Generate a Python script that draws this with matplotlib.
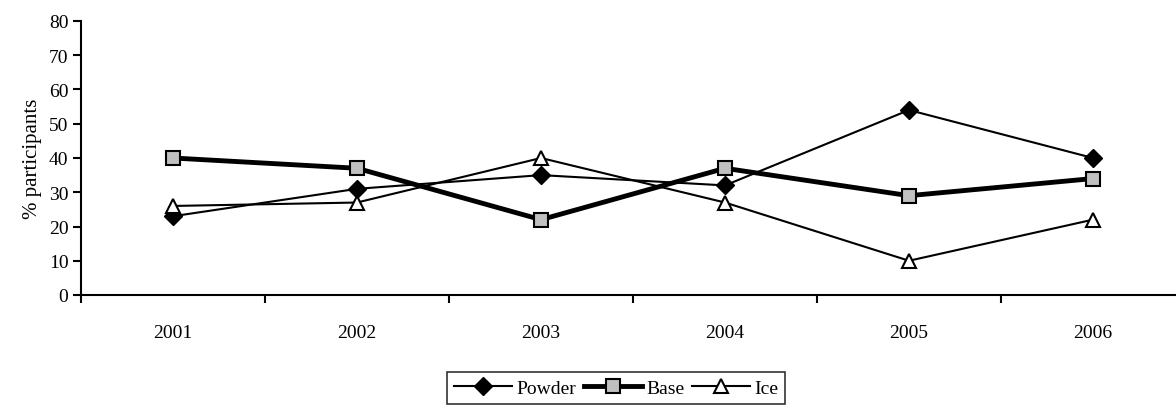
import matplotlib
matplotlib.use("Agg")
import matplotlib.pyplot as plt
import numpy as np

years = ["2001", "2002", "2003", "2004", "2005", "2006"]
powder = [23, 31, 35, 32, 54, 40]
base = [40, 37, 22, 37, 29, 34]
ice = [26, 27, 40, 27, 10, 22]

plt.rcParams["font.family"] = ["Liberation Serif", "DejaVu Serif"]

fig = plt.figure(figsize=(11.76, 4.14), dpi=100)
ax = fig.add_axes([81 / 1176, 1 - 296 / 414, 1104 / 1176, 274 / 414])

x = np.arange(len(years))
ax.plot(x, powder, color="black", lw=1.5, marker="D", ms=9, mfc="black",
        mec="black", label="Powder")
ax.plot(x, base, color="black", lw=3.5, marker="s", ms=10, mfc="#c0c0c0",
        mec="black", mew=1.5, label="Base")
ax.plot(x, ice, color="black", lw=1.5, marker="^", ms=10, mfc="white",
        mec="black", mew=1.5, label="Ice")

ax.set_xlim(-0.5, len(years) - 0.5)
ax.set_ylim(0, 80)
ax.set_yticks(range(0, 81, 10))
ax.set_xticks(np.arange(-0.5, len(years), 1.0))
ax.set_xticklabels([])
ax.set_xticks(x, minor=True)
ax.set_xticklabels(years, minor=True)
ax.tick_params(axis="x", which="minor", length=0, pad=21, labelsize=14)
ax.tick_params(axis="x", which="major", length=6, width=1.5, direction="out")
ax.tick_params(axis="y", length=6, width=1.5, direction="out", labelsize=14, pad=3)

for s in ["top", "right"]:
    ax.spines[s].set_visible(False)
for s in ["left", "bottom"]:
    ax.spines[s].set_linewidth(1.5)

ax.set_ylabel("% participants", fontsize=15, labelpad=5)

leg = fig.legend(loc="center", bbox_to_anchor=(616 / 1176, 1 - 389 / 414),
                 ncol=3, frameon=True, fancybox=False, edgecolor="black",
                 fontsize=14, handlelength=3.0, handletextpad=0.2,
                 columnspacing=0.4, borderpad=0.35)
leg.get_frame().set_linewidth(1.2)

fig.savefig("out.png", dpi=100)
